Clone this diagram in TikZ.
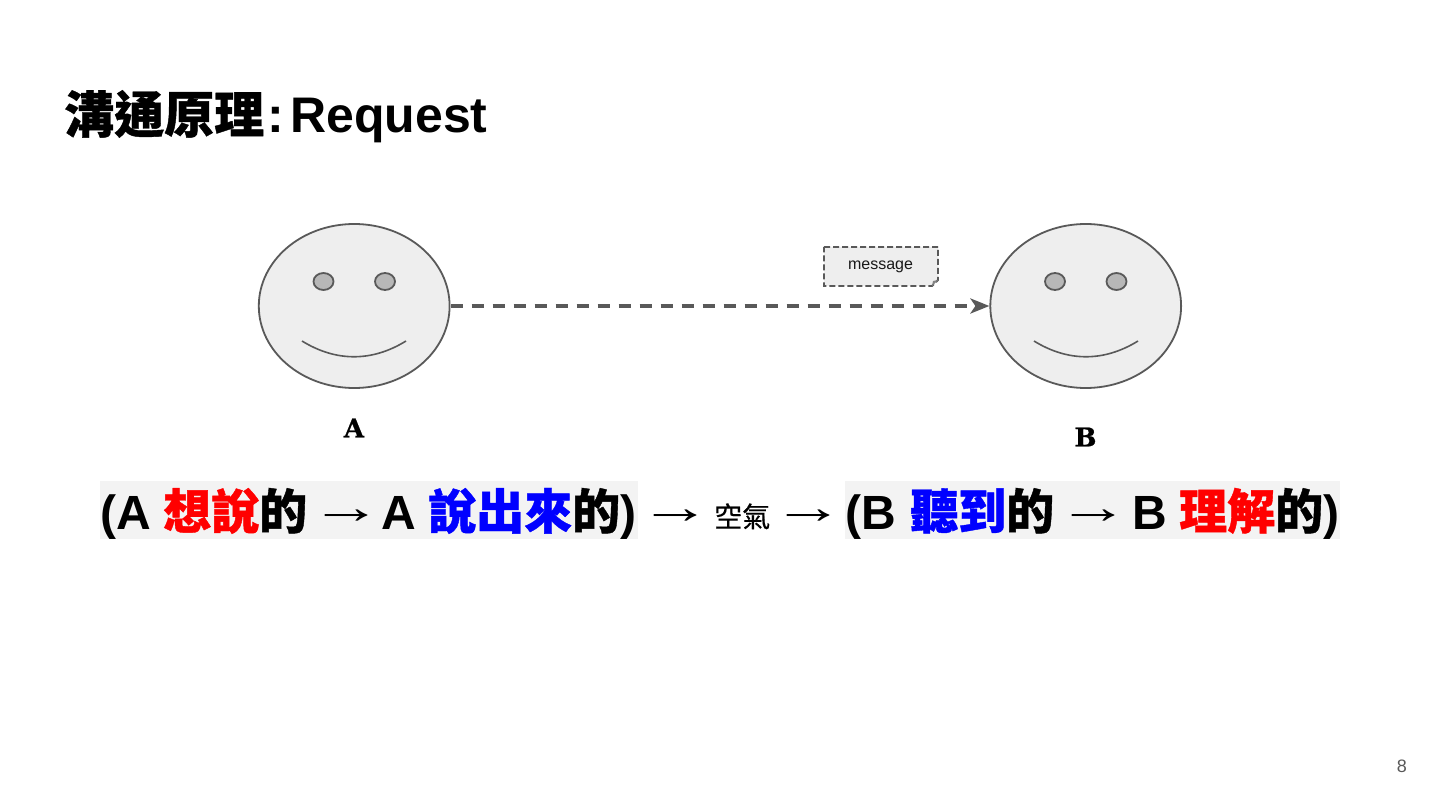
\documentclass[tikz,border=0pt]{standalone}
\usepackage{fontspec}
\setmainfont{Liberation Sans}
\newfontfamily\cjkb[BoldFeatures={FakeBold=0.8}]{Noto Sans CJK TC}
\newfontfamily\cjkm[FakeBold=0.4]{Noto Sans CJK TC}
\newfontfamily\slab[BoldFeatures={FakeBold=0.8}]{DejaVu Serif}
\newfontfamily\arrowfont{Liberation Serif}
\usetikzlibrary{shapes.geometric,arrows.meta}
\definecolor{ln}{HTML}{595959}
\definecolor{fc}{HTML}{EEEEEE}
\definecolor{ey}{HTML}{B7B7B7}
\definecolor{hl}{HTML}{F3F3F3}
\definecolor{rd}{HTML}{FF0000}
\definecolor{bl}{HTML}{0000FF}
\newcommand{\fs}[1]{\fontsize{#1}{#1}\selectfont}
\newcommand{\longarrow}{\scalebox{1.5}[1]{→}}
\tikzset{
  face/.style={ellipse,draw=ln,fill=fc,line width=1.8pt,minimum width=190.8pt,minimum height=164pt,inner sep=0pt},
  eye/.style={ellipse,draw=ln,fill=ey,line width=1.8pt,minimum width=20pt,minimum height=17pt,inner sep=0pt},
  smile/.style={draw=ln,line width=1.6pt},
  who/.style={font=\slab\bfseries\fs{26},inner sep=0pt,text=black},
  seg/.style={anchor=base west,inner sep=0pt,font=\bfseries\fs{48},text=black},
  zh/.style={seg,font=\cjkb\bfseries\fs{48}},
  arw/.style={anchor=base,inner sep=0pt,font=\arrowfont\fs{48},text=black},
  band/.style={fill=hl,draw=none},
}
\begin{document}
\begin{tikzpicture}[x=1pt,y=-1pt]
\useasboundingbox (0,0) rectangle (1440,810);
\fill[white] (0,0) rectangle (1440,810);
% title
\node[anchor=base west,inner sep=0pt,font=\cjkb\bfseries\fs{50}] (t1) at (64,133) {溝通原理};
\node[anchor=base west,inner sep=0pt,font=\bfseries\fs{50}] (t2) at (267,133) {:};
\node[anchor=base west,inner sep=0pt,font=\bfseries\fs{50}] (t3) at (290,133) {Request};
% faces
\node[face] (a) at (354.2,306) {};
\node[eye] (ae1) at (323.5,281.5) {};
\node[eye] (ae2) at (385,281.5) {};
\coordinate (as1) at (302,341); \coordinate (as2) at (406,341);
\draw[smile] (as1) .. controls (336,362) and (372,362) .. (as2);
\node[face] (b) at (1085.7,306) {};
\node[eye] (be1) at (1055,281.5) {};
\node[eye] (be2) at (1116.5,281.5) {};
\coordinate (bs1) at (1034,341); \coordinate (bs2) at (1138,341);
\draw[smile] (bs1) .. controls (1068,362) and (1104,362) .. (bs2);
\node[who] (la) at (354,428) {A};
\node[who] (lb) at (1085.5,437) {B};
% connector
\draw[ln,line width=3.3pt,dash pattern=on 12pt off 9pt,-{Stealth[length=19pt,width=15pt,inset=5pt]}] (a.east) -- (b.west);
% note
\draw[ln,line width=1.8pt,fill=fc,dash pattern=on 6pt off 3pt] (824,247) -- (938,247) -- (938,280) -- (932,286) -- (824,286) -- cycle;
\fill[ln!75] (932,286) -- (933,281) -- (938,280) -- cycle;
\node[anchor=base,inner sep=0pt,font=\fs{16},text=black!90] (msg) at (880.5,269.5) {message};
% bands
\fill[band] (100,481) rectangle (638,539);
\fill[band] (845,481) rectangle (1340,539);
% formula
\node[seg] (f1) at (100,529) {(A};
\node[zh,text=rd] (f2) at (163,529) {想說};
\node[zh] (f3) at (259,529) {的};
\node[arw] (f4) at (346,523) {\longarrow};
\node[seg] (f5) at (381,529) {A};
\node[zh,text=bl] (f6) at (428,529) {說出來};
\node[zh] (f7) at (572,529) {的};
\node[seg] (f8) at (620,529) {)};
\node[arw] (f9) at (675,523) {\longarrow};
\node[anchor=base west,inner sep=0pt,font=\cjkm\fs{28}] (f10) at (714,527) {空氣};
\node[arw] (f11) at (808,523) {\longarrow};
\node[seg] (f12) at (845,529) {(B};
\node[zh,text=bl] (f13) at (910,529) {聽到};
\node[zh] (f14) at (1006,529) {的};
\node[arw] (f15) at (1093,523) {\longarrow};
\node[seg] (f16) at (1132,529) {B};
\node[zh,text=rd] (f17) at (1179,529) {理解};
\node[zh] (f18) at (1275,529) {的};
\node[seg] (f19) at (1323,529) {)};
% page
\node[anchor=base east,inner sep=0pt,font=\fs{18},text=ln] (pg) at (1407,772) {8};
\end{tikzpicture}
\end{document}
